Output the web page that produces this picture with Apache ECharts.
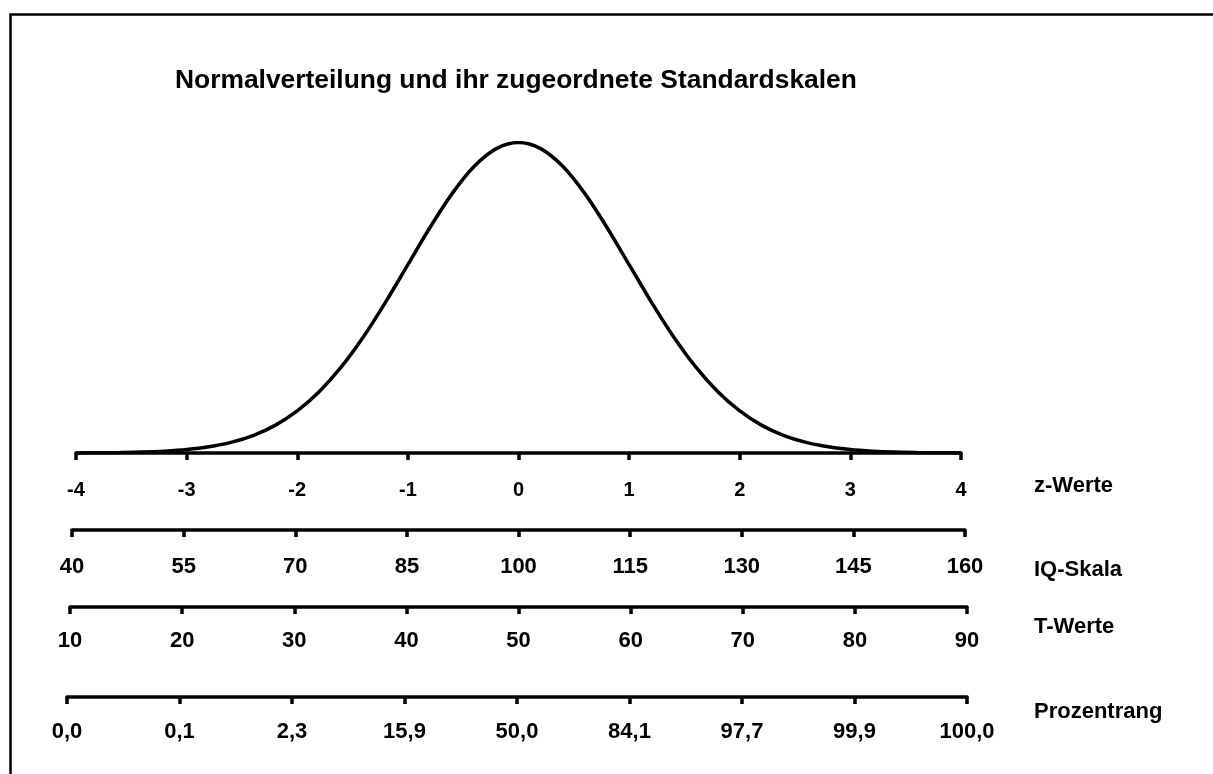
<!DOCTYPE html>
<html>
<head>
<meta charset="utf-8">
<script src="https://cdn.jsdelivr.net/npm/echarts@6/dist/echarts.min.js"></script>
<style>
  html, body { margin: 0; padding: 0; background: #fff; }
  #main { width: 1213px; height: 774px; }
</style>
</head>
<body>
<div id="main"></div>
<script>
// z-Werte und Dichte der Normalverteilung
var zValues = [-4, -3.8, -3.6, -3.4, -3.2, -3, -2.8, -2.6, -2.4, -2.2, -2, -1.8, -1.6, -1.4, -1.2, -1, -0.8, -0.6, -0.4, -0.2,
    0, 0.2, 0.4, 0.6, 0.8, 1, 1.2, 1.4, 1.6, 1.8, 2, 2.2, 2.4, 2.6, 2.8, 3, 3.2, 3.4, 3.6, 3.8, 4];
var density = [0.0001, 0.0003, 0.0006, 0.0012, 0.0024, 0.0044, 0.0079, 0.0136, 0.0224, 0.0355, 0.0540, 0.0790, 0.1109, 0.1497, 0.1942, 0.2420, 0.2897, 0.3332, 0.3683, 0.3910,
    0.3989, 0.3910, 0.3683, 0.3332, 0.2897, 0.2420, 0.1942, 0.1497, 0.1109, 0.0790, 0.0540, 0.0355, 0.0224, 0.0136, 0.0079, 0.0044, 0.0024, 0.0012, 0.0006, 0.0003, 0.0001];

var iqLabels = ['40', '55', '70', '85', '100', '115', '130', '145', '160'];
var tLabels = ['10', '20', '30', '40', '50', '60', '70', '80', '90'];
var prLabels = ['0,0', '0,1', '2,3', '15,9', '50,0', '84,1', '97,7', '99,9', '100,0'];

var scaleNames = ['z-Werte', 'IQ-Skala', 'T-Werte', 'Prozentrang'];
var titleText = 'Normalverteilung und ihr zugeordnete Standardskalen';

var FONT = '"Liberation Sans", Arial, sans-serif';
var W = 1213, H = 774;

var myChart = echarts.init(document.getElementById('main'), null, { renderer: 'canvas' });

function axisLook(margin, size) {
    return {
        axisLine: { show: true, lineStyle: { color: '#000', width: 3.5 } },
        axisTick: { show: true, inside: false, length: 7, lineStyle: { color: '#000', width: 3.5 } },
        axisLabel: { color: '#000', fontWeight: 'bold', fontSize: size, fontFamily: FONT, margin: margin },
        splitLine: { show: false }
    };
}

// Lage der Skalen (Linie y, links, rechts)
var lines = [
    { y: 453, l: 76, r: 961 },
    { y: 530, l: 72, r: 965 },
    { y: 607, l: 70, r: 967 },
    { y: 697, l: 67, r: 967 }
];

var grids = lines.map(function (s, i) {
    if (i === 0) {
        return { left: s.l, width: s.r - s.l, top: 142.5, bottom: H - s.y };
    }
    return { left: s.l, width: s.r - s.l, top: s.y - 10, bottom: H - s.y };
});

var xAxes = [
    Object.assign({ type: 'value', gridIndex: 0, min: -4, max: 4, interval: 1 }, axisLook(27, 20)),
    Object.assign({ type: 'category', gridIndex: 1, data: iqLabels, boundaryGap: false }, axisLook(26, 22)),
    Object.assign({ type: 'category', gridIndex: 2, data: tLabels, boundaryGap: false }, axisLook(23, 22)),
    Object.assign({ type: 'category', gridIndex: 3, data: prLabels, boundaryGap: false }, axisLook(24, 22))
];

var yAxes = lines.map(function (s, i) {
    return { type: 'value', gridIndex: i, min: 0, max: i === 0 ? 0.3989 : 1, show: false };
});

var nameY = [486, 570, 627, 712];
var graphics = [
    { type: 'rect', left: 8, top: 12, shape: { x: 0, y: 0, width: W + 20, height: H + 20 },
      style: { fill: 'none', stroke: '#000', lineWidth: 2.5 }, silent: true, z: -1 },
    { type: 'text', x: 175, y: 81,
      style: { text: titleText, fill: '#000', font: 'bold 26.4px ' + FONT, textVerticalAlign: 'middle' } }
];
scaleNames.forEach(function (n, i) {
    graphics.push({ type: 'text', x: 1034, y: nameY[i],
        style: { text: n, fill: '#000', font: 'bold 22px ' + FONT, textVerticalAlign: 'middle' } });
});

var option = {
    backgroundColor: '#fff',
    animation: false,
    grid: grids,
    xAxis: xAxes,
    yAxis: yAxes,
    graphic: graphics,
    series: [{
        type: 'line',
        xAxisIndex: 0,
        yAxisIndex: 0,
        smooth: 0.3,
        showSymbol: false,
        lineStyle: { color: '#000', width: 3.5 },
        data: zValues.map(function (z, i) { return [z, density[i]]; }),
        z: 3
    }]
};

myChart.setOption(option);
window.addEventListener('resize', function () {
    myChart.resize();
});
</script>
</body>
</html>
